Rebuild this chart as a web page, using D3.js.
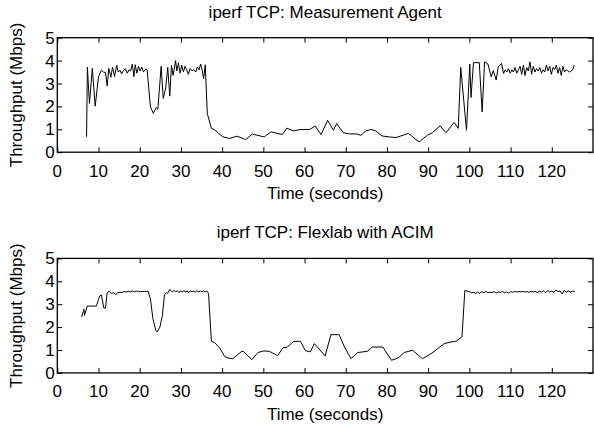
<!DOCTYPE html>
<html>
<head>
<meta charset="utf-8">
<script src="https://cdn.jsdelivr.net/npm/d3@7"></script>
<style>
  body { margin: 0; background: #fff; }
</style>
</head>
<body>
<svg width="594" height="430"></svg>
<script>
// measurement agent (top panel)
const maTime = [7.1, 7.3, 7.8, 8.5, 9.2, 10.0, 10.7, 11.2, 11.7, 12.1, 12.5, 13.0, 13.4, 13.9, 14.4, 14.8,
  15.2, 15.6, 16.0, 16.5, 17.0, 17.4, 17.8, 18.2, 18.6, 18.9, 19.3, 19.7, 20.1, 20.5, 20.9, 21.4, 21.8,
  22.6, 23.3, 24.0, 24.4, 25.2, 25.7, 26.3, 26.8, 27.3, 27.7, 28.1, 28.7, 29.0, 29.4, 29.8, 30.2, 30.6,
  31.0, 31.4, 31.8, 32.2, 32.7, 33.1, 33.6, 34.0, 34.4, 34.8, 35.2, 35.5, 35.9, 36.4, 37.4, 38.2, 39.0,
  40.2, 41.8, 43.6, 45.7, 47.3, 50.2, 51.9, 54.6, 55.7, 57.3, 58.9, 61.2, 62.6, 64.0, 65.6, 67.0, 67.8,
  69.4, 70.9, 72.5, 73.7, 74.9, 76.1, 77.3, 78.8, 80.4, 82.2, 85.2, 87.8, 89.8, 91.0, 92.9, 94.3, 96.3,
  97.3, 97.9, 99.3, 100.1, 100.4, 101.0, 102.4, 103.1, 103.7, 104.5, 105.3, 105.8, 106.5, 107.0, 107.8,
  108.3, 108.7, 109.1, 109.5, 109.9, 110.3, 110.7, 111.1, 111.5, 111.9, 112.3, 112.7, 113.1, 113.5,
  113.9, 114.3, 114.7, 115.1, 115.5, 115.9, 116.3, 116.7, 117.1, 117.5, 117.9, 118.3, 118.7, 119.1,
  119.5, 119.9, 120.3, 120.7, 121.1, 121.5, 121.9, 122.3, 122.7, 123.1, 123.5, 123.9, 124.3, 124.7,
  125.1, 125.4]
const maMbps = [0.67, 3.72, 2.13, 3.66, 2.01, 3.29, 3.58, 3.5, 3.48, 2.9, 3.66, 3.27, 3.72, 3.3, 3.8, 3.5,
  3.58, 3.42, 3.55, 3.65, 3.45, 3.6, 3.55, 3.85, 3.3, 3.82, 3.45, 3.75, 3.55, 3.72, 3.5, 3.62, 3.6,
  1.98, 1.7, 1.95, 1.88, 3.75, 2.35, 2.8, 3.7, 2.45, 3.8, 3.35, 4.0, 3.55, 3.9, 3.45, 3.8, 3.5,
  3.75, 3.6, 3.4, 3.65, 3.55, 3.6, 3.5, 3.72, 3.6, 3.85, 3.55, 3.2, 3.82, 1.69, 1.04, 0.98, 0.85,
  0.67, 0.6, 0.7, 0.55, 0.79, 0.67, 0.89, 0.77, 1.05, 0.93, 0.99, 0.99, 1.14, 0.77, 1.39, 0.96, 1.25,
  0.85, 0.8, 0.8, 0.74, 0.93, 0.99, 0.93, 0.71, 0.67, 0.64, 0.82, 0.45, 0.74, 0.85, 1.15, 0.85, 1.3,
  1.04, 3.7, 0.96, 3.85, 2.39, 3.91, 3.91, 1.76, 3.95, 3.85, 3.29, 3.56, 3.15, 3.73, 3.88,
  3.44, 3.6, 3.5, 3.65, 3.45, 3.6, 3.5, 3.7, 3.45, 3.6, 3.75, 3.4, 3.8, 3.35,
  3.7, 3.55, 3.95, 3.4, 3.75, 3.5, 3.65, 3.55, 3.7, 3.45, 3.6, 3.5, 3.8, 3.55,
  3.75, 3.4, 3.7, 3.6, 3.8, 3.45, 3.7, 3.35, 3.75, 3.5, 3.6, 3.55, 3.5, 3.55,
  3.6, 3.8]

// flexlab with ACIM (bottom panel)
const acimTime = [5.9, 6.47, 6.6, 7.27, 8.0, 8.8, 9.5, 10.0, 10.3, 10.7, 11.3, 11.7, 12.1, 12.6, 13.1, 13.6,
  14.2, 14.7, 15.2, 15.7, 16.2, 16.7, 17.2, 17.7, 18.2, 18.7, 19.2, 19.7, 20.2, 20.7, 21.2, 21.7, 22.0,
  22.6, 23.2, 23.9, 24.2, 24.9, 25.5, 26.0, 26.4, 26.8, 27.3, 27.9, 28.3, 28.7, 29.1, 29.5, 29.9, 30.3,
  30.7, 31.1, 31.5, 31.9, 32.3, 32.7, 33.1, 33.5, 33.9, 34.3, 34.7, 35.1, 35.5, 35.9, 36.3, 36.7, 37.4,
  38.2, 39.4, 40.6, 41.4, 42.6, 44.6, 45.1, 47.2, 48.7, 50.1, 51.5, 53.5, 54.7, 55.8, 57.4, 59.0, 60.2,
  61.4, 62.4, 65.0, 66.4, 68.4, 69.8, 71.3, 72.9, 75.2, 76.4, 79.0, 81.1, 82.7, 84.2, 86.2, 88.6, 90.7,
  92.3, 93.9, 95.5, 96.7, 98.2, 98.9, 99.5, 100.0, 100.5, 101.0, 101.5, 102.0, 102.5, 103.0, 103.5,
  104.0, 104.5, 105.0, 105.5, 106.0, 106.5, 107.0, 107.5, 108.0, 108.5, 109.0, 109.5, 110.0, 110.5,
  111.0, 111.5, 112.0, 112.5, 113.0, 113.5, 114.0, 114.5, 115.0, 115.5, 116.0, 116.5, 117.0, 117.5,
  118.0, 118.5, 119.0, 119.5, 120.0, 120.5, 121.0, 121.5, 122.0, 122.5, 123.0, 123.5, 124.0, 124.5,
  125.0, 125.6]
const acimMbps = [2.44, 2.78, 2.51, 2.92, 2.92, 2.92, 2.92, 3.2, 3.36, 3.4, 2.83, 2.83, 3.5, 3.57, 3.47, 3.5,
  3.43, 3.5, 3.52, 3.5, 3.56, 3.53, 3.57, 3.54, 3.58, 3.55, 3.57, 3.55, 3.56, 3.55, 3.56, 3.55, 3.57,
  3.24, 2.37, 1.86, 1.79, 2.0, 2.51, 3.41, 3.5, 3.48, 3.65, 3.53, 3.6, 3.55, 3.58, 3.52, 3.57, 3.53,
  3.58, 3.54, 3.57, 3.52, 3.58, 3.55, 3.57, 3.53, 3.59, 3.54, 3.57, 3.55, 3.58, 3.54, 3.57, 3.47, 1.38,
  1.32, 1.09, 0.72, 0.65, 0.62, 0.92, 0.95, 0.58, 0.89, 0.96, 0.94, 0.75, 1.09, 1.13, 1.38, 1.38, 0.97,
  0.92, 1.28, 0.74, 1.67, 1.67, 1.09, 0.62, 0.89, 0.94, 1.13, 1.13, 0.55, 0.65, 0.89, 0.99, 0.62, 0.84,
  1.06, 1.28, 1.35, 1.38, 1.57, 3.6, 3.57, 3.55, 3.5, 3.52, 3.47, 3.53, 3.48, 3.55, 3.5,
  3.56, 3.49, 3.53, 3.5, 3.55, 3.48, 3.54, 3.51, 3.56, 3.5, 3.53, 3.49, 3.55, 3.52,
  3.56, 3.53, 3.55, 3.54, 3.56, 3.53, 3.55, 3.52, 3.57, 3.53, 3.56, 3.51, 3.57, 3.52,
  3.58, 3.5, 3.6, 3.53, 3.57, 3.52, 3.62, 3.55, 3.58, 3.45, 3.6, 3.52, 3.58, 3.53,
  3.57, 3.55]

const xTicks = [0, 10, 20, 30, 40, 50, 60, 70, 80, 90, 100, 110, 120]
const yTicks = [0, 1, 2, 3, 4, 5]
const titles = ['iperf TCP: Measurement Agent', 'iperf TCP: Flexlab with ACIM']
const xAxisLabel = 'Time (seconds)'
const yAxisLabel = 'Throughput (Mbps)'

const svg = d3.select('svg')
const width = 594
const fontFamily = '"Liberation Sans", Arial, Helvetica, sans-serif'

const margin = { left: 57.3, right: 1 }
const innerHeight = 114.5
const panelTops = [37.7, 258.4]

// absolute pixel ranges, no panel group transform
const xScale = d3.scaleLinear()
  .domain([0, 130])
  .range([margin.left, width - margin.right])
const left = xScale.range()[0]
const right = xScale.range()[1]
const midX = (left + right) / 2

function drawPanel(top, times, values, title) {
  const bottom = top + innerHeight
  const yScale = d3.scaleLinear()
    .domain([0, 5])
    .range([bottom, top])

  const g = svg.append('g')
  const data = times.map((t, i) => ({ t: t, v: values[i] }))

  // inward tick marks on all four sides, like gnuplot
  g.append('g')
    .attr('transform', `translate(0,${bottom})`)
    .call(d3.axisBottom(xScale).tickValues(xTicks).tickSize(-5))
  g.append('g')
    .attr('transform', `translate(0,${top})`)
    .call(d3.axisTop(xScale).tickValues(xTicks).tickSize(-5))
  g.append('g')
    .attr('transform', `translate(${left},0)`)
    .call(d3.axisLeft(yScale).tickValues(yTicks).tickSize(-5))
  g.append('g')
    .attr('transform', `translate(${right},0)`)
    .call(d3.axisRight(yScale).tickValues(yTicks).tickSize(-5))

  g.selectAll('.domain').remove()
  g.selectAll('.tick text').remove()
  g.selectAll('.tick line').attr('stroke', '#000')

  // tick labels placed straight from the scales
  g.append('g').selectAll('text')
    .data(xTicks)
    .enter().append('text')
    .attr('x', d => xScale(d))
    .attr('y', bottom + 24.5)
    .attr('text-anchor', 'middle')
    .attr('font-family', fontFamily)
    .attr('font-size', 17)
    .attr('fill', '#000')
    .text(d3.format('d'))

  g.append('g').selectAll('text')
    .data(yTicks)
    .enter().append('text')
    .attr('x', left - 2.5)
    .attr('y', d => yScale(d) + 6)
    .attr('text-anchor', 'end')
    .attr('font-family', fontFamily)
    .attr('font-size', 17)
    .attr('fill', '#000')
    .text(d3.format('d'))

  g.append('rect')
    .attr('x', left)
    .attr('y', top)
    .attr('width', right - left)
    .attr('height', innerHeight)
    .attr('fill', 'none')
    .attr('stroke', '#000')
    .attr('stroke-width', 1.3)

  const line = d3.line()
    .x(d => xScale(d.t))
    .y(d => yScale(d.v))

  g.append('path')
    .datum(data)
    .attr('d', line)
    .attr('fill', 'none')
    .attr('stroke', '#000')
    .attr('stroke-width', 1)
    .attr('stroke-linejoin', 'round')

  const label = (x, y, txt) => g.append('text')
    .attr('x', x)
    .attr('y', y)
    .attr('text-anchor', 'middle')
    .attr('font-family', fontFamily)
    .attr('font-size', 17)
    .attr('fill', '#000')
    .text(txt)

  label(midX, top - 20, title)
  label(midX, bottom + 47, xAxisLabel)
  const cx = left - 35.5
  const cy = (top + bottom) / 2
  label(cx, cy, yAxisLabel)
    .attr('transform', `rotate(-90,${cx},${cy})`)
}

drawPanel(panelTops[0], maTime, maMbps, titles[0])
drawPanel(panelTops[1], acimTime, acimMbps, titles[1])
</script>
</body>
</html>
